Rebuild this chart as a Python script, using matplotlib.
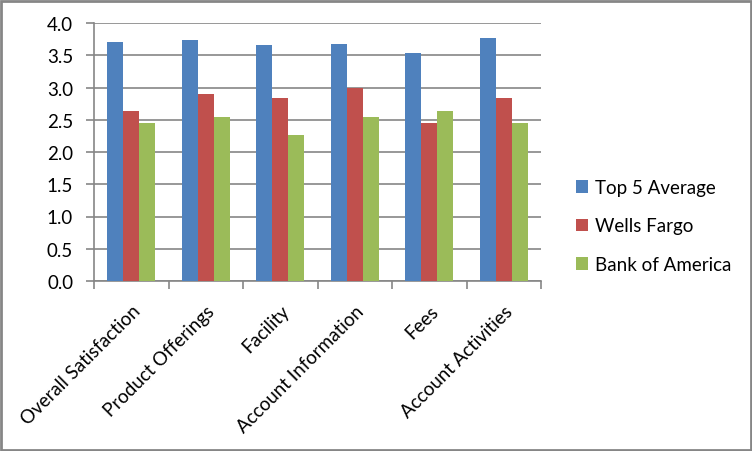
import numpy as np
import matplotlib.pyplot as plt
from matplotlib.patches import Rectangle

# --- data ---
categories = ["Overall Satisfaction", "Product Offerings", "Facility",
              "Account Information", "Fees", "Account Activities"]
top5_avg   = [3.70, 3.73, 3.66, 3.68, 3.54, 3.77]
wells      = [2.64, 2.90, 2.83, 3.00, 2.45, 2.83]
boa        = [2.45, 2.55, 2.27, 2.55, 2.64, 2.45]
series_names = ["Top 5 Average", "Wells Fargo", "Bank of America"]
colors = ["#4F81BD", "#C0504D", "#9BBB59"]
yticks = np.arange(0, 4.01, 0.5)

plt.rcParams["font.family"] = ["Lato", "DejaVu Sans"]
FS = 13.5

fig = plt.figure(figsize=(7.52, 4.52), dpi=100)
ax = fig.add_axes([94 / 752, 1 - 282 / 452, (541 - 94) / 752, (282 - 24) / 452])

x = np.arange(len(categories))
w = 0.216
for i, (vals, name, c) in enumerate(zip([top5_avg, wells, boa], series_names, colors)):
    ax.bar(x + (i - 1) * w, vals, width=w, color=c, label=name, zorder=3)

ax.set_xlim(-0.5, len(categories) - 0.5)
ax.set_ylim(0, 4.0)
ax.set_yticks(yticks)
ax.set_yticklabels([f"{v:.1f}" for v in yticks], fontsize=FS)
ax.grid(axis="y", color="#868686", lw=1.2, zorder=0)

# category boundary ticks on x
ax.set_xticks(np.arange(-0.5, len(categories), 1.0))
ax.set_xticklabels([])
ax.set_xticks(x, minor=True)
ax.set_xticklabels(categories, minor=True, rotation=45, ha="right",
                   rotation_mode="anchor", fontsize=FS)
ax.tick_params(axis="x", which="minor", length=0, pad=15)
ax.tick_params(axis="x", which="major", length=6, color="#868686", width=1.2)
ax.tick_params(axis="y", length=6, color="#868686", width=1.2, pad=9)

for s in ["top", "right"]:
    ax.spines[s].set_visible(False)
for s in ["left", "bottom"]:
    ax.spines[s].set_color("#868686")
    ax.spines[s].set_linewidth(1.2)

ax.legend(loc="center left", bbox_to_anchor=(568 / 752, 225 / 452),
          bbox_transform=fig.transFigure, frameon=False, fontsize=FS,
          handlelength=0.65, handleheight=0.65, handletextpad=0.4,
          labelspacing=1.15, borderaxespad=0)

fig.patches.append(Rectangle((0.5 / 752, 1.5 / 452), 750 / 752, 449 / 452,
                             transform=fig.transFigure, fill=False,
                             edgecolor="#868686", lw=2))

fig.savefig("out.png", dpi=100)
